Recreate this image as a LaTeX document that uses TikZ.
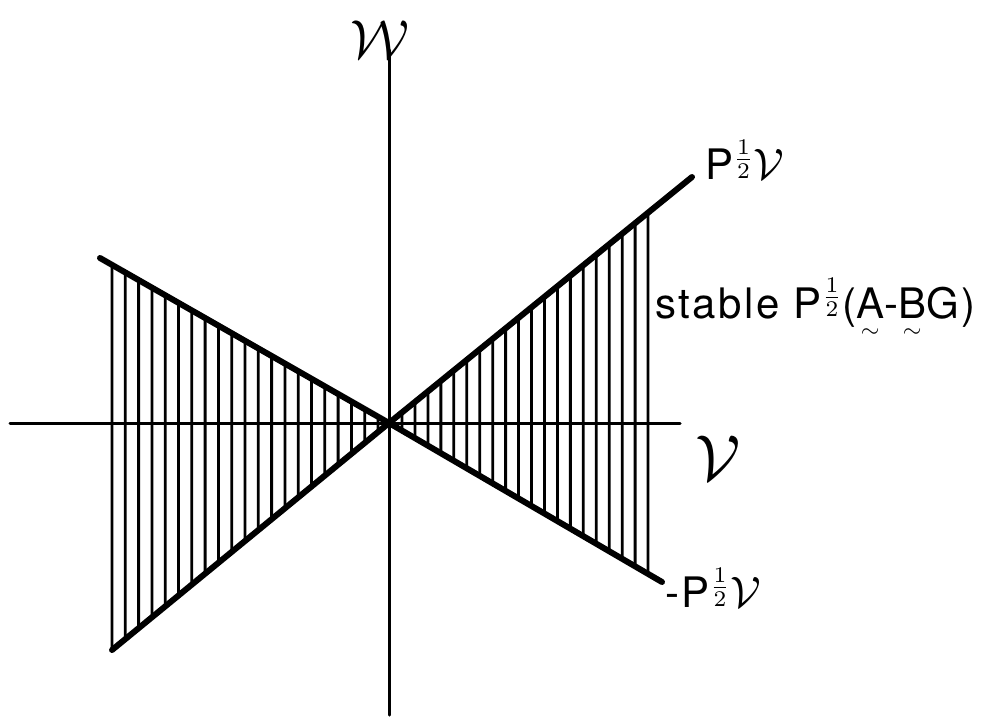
\documentclass[tikz,border=0pt]{standalone}
\usepackage{amsmath}
\usepackage{fontspec}
\setsansfont[LetterSpace=6]{TeX Gyre Heros}
\usetikzlibrary{calc}

\newcommand{\halfpow}{\raisebox{0.3em}{\scalebox{3.2}{\normalsize$\frac{1}{2}$}}}
\newcommand{\scrv}[1]{\scalebox{#1}{\normalsize$\mathcal{V}$}}
\newcommand{\mtx}[1]{\begin{tabular}[t]{@{}c@{}}#1\\[-0.72em]\scalebox{2.4}{\normalsize$\sim$}\end{tabular}}

\begin{document}
\begin{tikzpicture}[x=1pt, y=-1pt, line cap=round, line join=round,
  axisline/.style={line width=3.0pt},
  wedgeline/.style={line width=6.0pt},
  hatchline/.style={line width=2.8pt},
  lbl/.style={anchor=west, inner sep=0pt, font=\sffamily\fontsize{42}{50}\selectfont},
  axislbl/.style={anchor=center, inner sep=0pt}]

  %% ════ fixed points ════
  \coordinate (O)      at (389,423);
  \coordinate (UL)     at (100,258);
  \coordinate (LL)     at (112,650);
  \coordinate (UR)     at (692,177);
  \coordinate (LR)     at (662,582);
  \coordinate (wtop)   at (389,50);
  \coordinate (wbot)   at (389,715);
  \coordinate (vleft)  at (10,423);
  \coordinate (vright) at (680,423);

  %% ════ hatching (left and right wedge) ════
  \foreach \i in {0,...,20} {
    \pgfmathsetmacro{\xx}{112+13.3*\i}
    \draw[hatchline] ($(O)!{(389-\xx)/289}!(UL)$) -- ($(O)!{(389-\xx)/277}!(LL)$);
  }
  \foreach \i in {0,...,19} {
    \pgfmathsetmacro{\xx}{402+12.95*\i}
    \draw[hatchline] ($(O)!{(\xx-389)/303}!(UR)$) -- ($(O)!{(\xx-389)/273}!(LR)$);
  }

  %% ════ axes and wedge edges ════
  \draw[axisline] (vleft) -- (vright);
  \draw[axisline] (wtop) -- (wbot);
  \draw[wedgeline] (UL) -- (O) -- (LR);
  \draw[wedgeline] (LL) -- (O) -- (UR);

  %% ════ labels ════
  \node[lbl] (pv)   at (705,160) {P\halfpow\scrv{4.4}};
  \node[lbl] (mpv)  at (665,588) {-P\halfpow\scrv{4.4}};
  \node[lbl, anchor=base west] (stab) at (655,318) {stable P\halfpow(\mtx{A}-\mtx{B}G)};
  \node[axislbl] (vlab) at (718,458) {\scrv{6.5}};
  \node[axislbl] (wlab) at (380,40)  {\scalebox{5.5}{\normalsize$\mathcal{W}$}};

  % canvas
  \pgfresetboundingbox
  \path[use as bounding box] (0,0) rectangle (995,717);
\end{tikzpicture}
\end{document}
